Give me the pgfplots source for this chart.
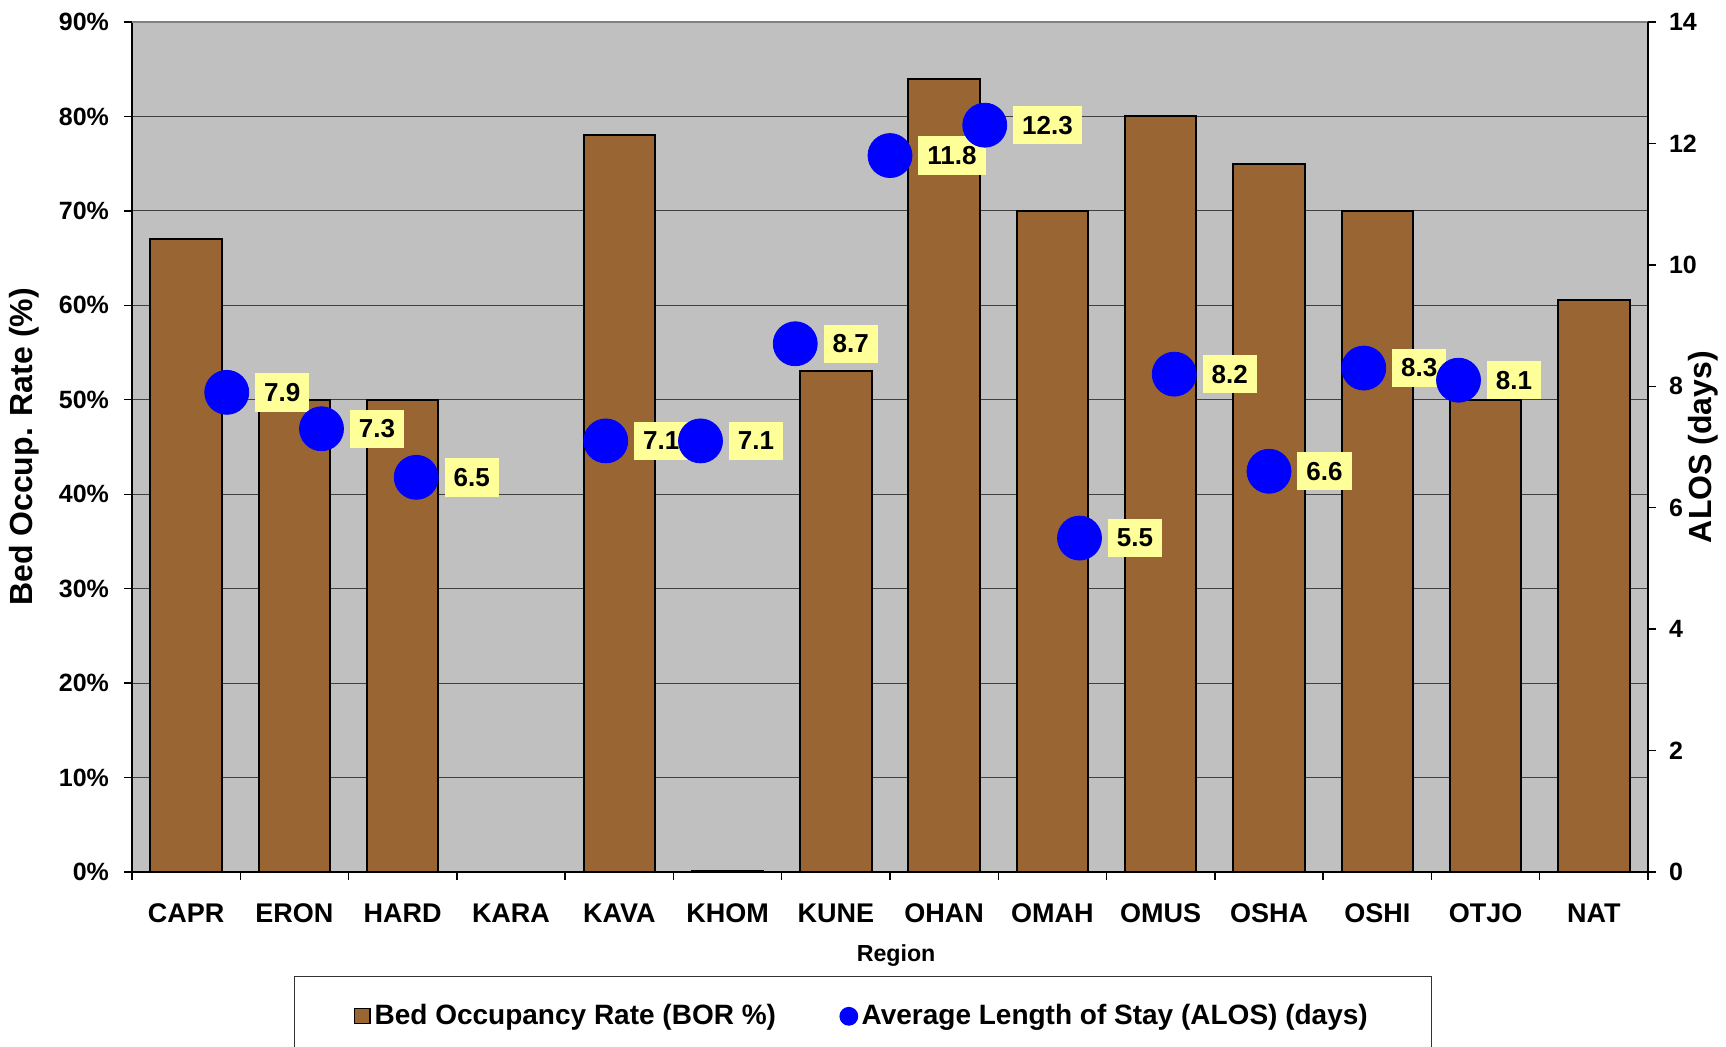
\documentclass[border=0pt]{standalone}
\usepackage{fontspec}
\setmainfont{Liberation Sans}
\usepackage{pgfplots}
\pgfplotsset{compat=1.18}
\definecolor{bgray}{HTML}{C0C0C0}
\definecolor{barbrown}{HTML}{996633}
\definecolor{lyellow}{HTML}{FFFF99}
\definecolor{dblue}{HTML}{0000FF}

\pgfplotstableread{
x   v
0   67
1   50
2   50
4   78
5   0.15
6   53
7   84
8   70
9   80
10  75
11  70
12  50
13  60.6
}\bortable

\pgfplotstableread{
x      v     lab
0.375  7.9   7.9
1.25   7.3   7.3
2.125  6.5   6.5
3.875  7.1   7.1
4.75   7.1   7.1
5.625  8.7   8.7
6.5    11.8  11.8
7.375  12.3  12.3
8.25   5.5   5.5
9.125  8.2   8.2
10.0   6.6   6.6
10.875 8.3   8.3
11.75  8.1   8.1
}\alostable

\begin{document}
\begin{tikzpicture}
\pgfplotsset{
  every axis/.append style={
    scale only axis, width=758pt, height=425pt,
    xmin=-0.5, xmax=13.5,
    /pgf/number format/assume math mode=true,
    tick align=outside,
    major tick length=4pt,
    tick style={black, line width=0.7pt},
  },
}
\begin{axis}[
  name=ax,
  ymin=0, ymax=90, ytick={0,10,...,90},
  yticklabel={\pgfmathprintnumber{\tick}\%},
  yticklabel style={font=\bfseries\fontsize{12.5}{14}\selectfont, xshift=-4pt},
  axis background/.style={fill=bgray},
  axis x line*=bottom, axis y line*=left,
  axis line style={black, line width=0.8pt},
  ymajorgrids, grid style={black!75, line width=0.6pt},
  xtick={-0.5,0.5,...,13.5},
  xticklabels={CAPR,ERON,HARD,KARA,KAVA,KHOM,KUNE,OHAN,OMAH,OMUS,OSHA,OSHI,OTJO,NAT,{}},
  xticklabel style={font=\bfseries\fontsize{13.5}{15}\selectfont, xshift=27.07pt, yshift=-8.3pt},
  xlabel={Region},
  xlabel style={font=\bfseries\fontsize{11.6}{13}\selectfont, at={(axis description cs:0.504,-0.0988)}, anchor=center},
  ylabel={Bed Occup. Rate (\%)},
  ylabel style={font=\bfseries\fontsize{16}{18}\selectfont, at={(axis description cs:-0.0709,0.5)}, anchor=center},
  legend columns=2,
  legend cell align=left,
  legend style={at={(axis description cs:0.4822,-0.1224)}, anchor=north,
    draw=black!80, fill=white, line width=0.6pt,
    font=\bfseries\fontsize{14}{16}\selectfont,
    inner xsep=30pt, inner ysep=12pt,
    /tikz/every even column/.append style={column sep=30pt}},
]
\draw[gray, line width=0.8pt] (rel axis cs:0,1) -- (rel axis cs:1,1);
\addplot[ybar, bar width=0.66, fill=barbrown, draw=black, line width=1pt,
  legend image code/.code={\draw[fill=barbrown, draw=black, line width=0.6pt] (0pt,-3.8pt) rectangle (7.6pt,3.8pt);}]
  table[x=x, y=v] {\bortable};
\addlegendentry{Bed Occupancy Rate (BOR \%)}
\addlegendimage{only marks, mark=*, mark size=4.4pt, color=dblue}
\addlegendentry{Average Length of Stay (ALOS) (days)}
\end{axis}

\begin{axis}[
  ymin=0, ymax=14, ytick={0,2,...,14},
  axis y line*=right, axis x line=none,
  axis line style={black, line width=0.8pt},
  yticklabel style={font=\bfseries\fontsize{12.5}{14}\selectfont, xshift=3pt},
  ylabel={ALOS (days)},
  ylabel style={font=\bfseries\fontsize{16}{18}\selectfont, at={(axis description cs:1.0363,0.5)}, anchor=center, rotate=0},
]
\addplot[only marks, mark=*, mark size=11pt, color=dblue,
  nodes near coords, point meta=explicit symbolic,
  nodes near coords style={anchor=west, xshift=14pt, yshift=0pt, fill=lyellow, text=black,
    inner xsep=4.5pt, inner ysep=5pt, font=\bfseries\fontsize{13}{15}\selectfont}]
  table[x=x, y=v, meta=lab] {\alostable};
\end{axis}
\pgfresetboundingbox
\path[use as bounding box] ([xshift=-66pt, yshift=-87.5pt]ax.south west) rectangle ([xshift=39pt, yshift=11pt]ax.north east);
\end{tikzpicture}
\end{document}
